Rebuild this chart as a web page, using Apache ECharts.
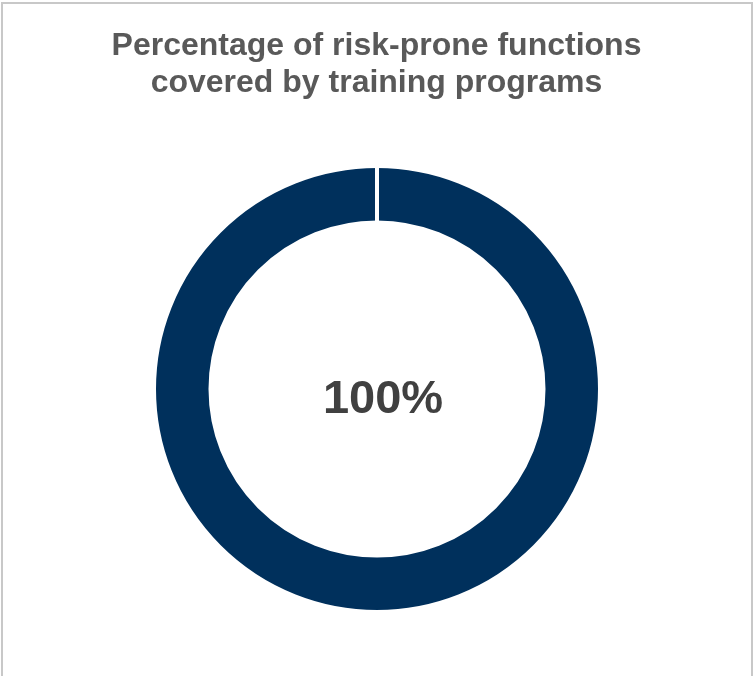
<!DOCTYPE html>
<html>
<head>
<meta charset="utf-8">
<script src="https://cdn.jsdelivr.net/npm/echarts@6/dist/echarts.min.js"></script>
<style>
html,body{margin:0;padding:0;background:#fff;overflow:hidden;}
#frame{position:absolute;left:1px;top:2px;width:752px;height:690px;border:2px solid #c8c8c8;box-sizing:border-box;}
#chart{position:absolute;left:0;top:0;width:753px;height:676px;}
</style>
</head>
<body>
<div id="frame"></div>
<div id="chart"></div>
<script>
var titleLines = ['Percentage of risk-prone functions', 'covered by training programs'];
var categories = ['Covered', 'Not covered'];
var values = [100, 0];

var chart = echarts.init(document.getElementById('chart'), null, {renderer: 'canvas'});
chart.setOption({
  backgroundColor: 'transparent',
  animation: false,
  title: {
    text: titleLines.join('\n'),
    left: 'center',
    top: 23,
    textStyle: {
      fontFamily: 'Liberation Sans, Arial, sans-serif',
      fontWeight: 'bold',
      fontSize: 32,
      lineHeight: 37,
      color: '#595959'
    }
  },
  series: [{
    type: 'pie',
    center: [377, 389],
    radius: [166.5, 223],
    startAngle: 90,
    clockwise: true,
    silent: true,
    avoidLabelOverlap: false,
    stillShowZeroSum: true,
    itemStyle: {
      color: '#00305C',
      borderColor: '#ffffff',
      borderWidth: 4
    },
    label: {show: false},
    labelLine: {show: false},
    data: categories.map(function (c, i) {
      var item = {name: c, value: values[i]};
      if (i === 0) {
        item.label = {
          show: true,
          position: 'center',
          formatter: '{c}%',
          fontFamily: 'Liberation Sans, Arial, sans-serif',
          fontWeight: 'bold',
          fontSize: 47,
          offset: [6, 11],
          color: '#404040'
        };
      }
      return item;
    })
  }]
});
</script>
</body>
</html>
